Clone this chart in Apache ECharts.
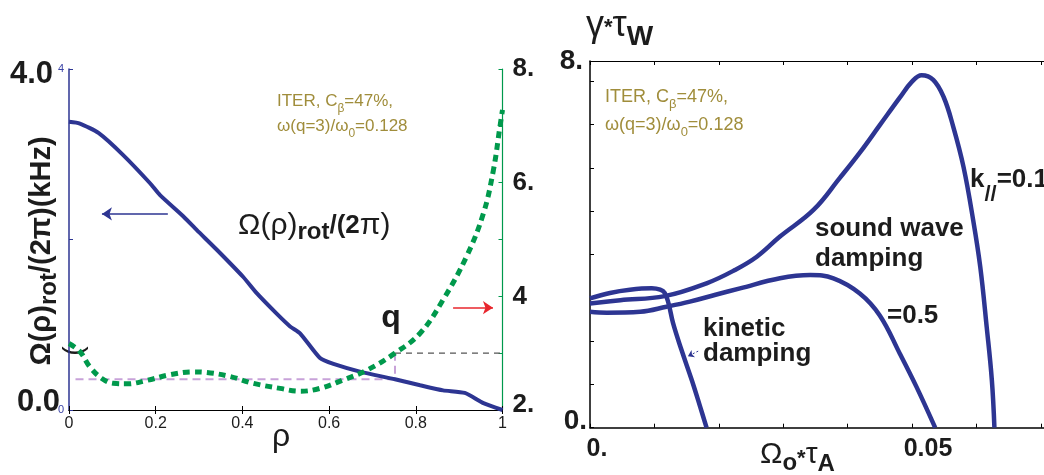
<!DOCTYPE html>
<html>
<head>
<meta charset="utf-8">
<script src="https://cdn.jsdelivr.net/npm/echarts@6/dist/echarts.min.js"></script>
<style>
  html, body { margin: 0; padding: 0; background: #fff; }
  #chart { width: 1044px; height: 475px; }
</style>
</head>
<body>
<div id="chart"></div>
<script>
// ---------- left panel: plasma rotation and safety factor vs rho ----------
const rhoRot  = [0, 0.025, 0.068, 0.125, 0.187, 0.21, 0.264, 0.295, 0.341, 0.402, 0.433, 0.479, 0.51, 0.533, 0.579, 0.61, 0.671, 0.752, 0.81, 0.863, 0.913, 0.956, 1.0];
const rotFreq = [3.38, 3.36, 3.25, 2.99, 2.66, 2.52, 2.27, 2.11, 1.88, 1.56, 1.37, 1.13, 0.98, 0.90, 0.61, 0.54, 0.45, 0.36, 0.29, 0.23, 0.20, 0.08, 0.0];

const rhoQ     = [0, 0.025, 0.048, 0.075, 0.102, 0.133, 0.179, 0.233, 0.287, 0.318, 0.371, 0.425, 0.487, 0.533, 0.579, 0.633, 0.687, 0.752, 0.81, 0.863, 0.917, 0.956, 0.979, 0.994, 1.0];
const qProfile = [3.17, 3.03, 2.76, 2.56, 2.47, 2.46, 2.52, 2.62, 2.67, 2.66, 2.59, 2.47, 2.38, 2.33, 2.38, 2.53, 2.70, 3.0, 3.35, 3.94, 4.70, 5.46, 6.22, 6.98, 7.28];

// q = 3 surface and the rotation there
const qRational = 3;
const rhoAtQ3 = 0.752;
const rotAtQ3 = 0.36;
const guideStart = 0.015;

const rotRange = [0, 4];
const qRange = [2, 8];
const rotTickText = { 0: '{b|0.0}', 4: '{t|4.0}' };
const rotSmallText = { 0: '0', 4: '4' };
const qTickText = { 2: '{d|2.}', 4: '4', 6: '6.', 8: '8.' };

// ---------- right panel: growth rate vs rotation frequency ----------
const kineticX = [0, 0.0031, 0.0062, 0.0096, 0.0109, 0.0116, 0.0122, 0.0129, 0.0142, 0.0158, 0.0171, 0.0181];
const kineticY = [2.82, 2.94, 3.01, 3.04, 3.01, 2.94, 2.71, 2.28, 1.70, 1.04, 0.46, 0];

const kPar01X = [0, 0.0047, 0.0116, 0.0181, 0.0225, 0.0259, 0.0295, 0.0347, 0.0388, 0.0419, 0.045, 0.0481, 0.050, 0.0515, 0.0533, 0.0549, 0.0564, 0.058, 0.0595, 0.0606, 0.0616, 0.0624, 0.0628];
const kPar01Y = [2.71, 2.78, 2.87, 3.15, 3.44, 3.73, 4.17, 4.75, 5.45, 6.0, 6.6, 7.2, 7.55, 7.69, 7.59, 7.22, 6.57, 5.69, 4.53, 3.51, 2.20, 1.04, 0];

const kPar05X = [0, 0.0026, 0.0078, 0.0119, 0.0155, 0.0195, 0.0233, 0.0295, 0.0342, 0.0378, 0.0419, 0.045, 0.0481, 0.0507, 0.0536];
const kPar05Y = [2.53, 2.51, 2.53, 2.64, 2.75, 2.90, 3.04, 3.26, 3.33, 3.26, 2.93, 2.45, 1.62, 0.89, 0];

const growthRange = [0, 8];
const growthStep = 0.9446;
const freqRange = [0, 0.0705];
const growthTickText = { 0: '{b|0.}', 8: '{t|8.}' };
const freqTickText = [[0, '{a|0.}'], [0.05, '{b|0.05}']];

// ---------- styling ----------
const BLUE = '#2d3592';
const GREEN = '#00994c';
const PINK = '#c8a2d9';
const OLIVE = '#a08d3b';
const RED = '#e8262d';
const INK = '#1c1c1c';
const SANS = '"Liberation Sans", Arial, Helvetica, sans-serif';

const zip = (xs, ys) => xs.map((x, i) => [x, ys[i]]);
const pick = (table, v) => { for (const k in table) { if (Math.abs(+k - v) < 1e-9) return table[k]; } return ''; };

// rich-text token whose glyph centre sits `center` px below the top of a line of height L
const tok = (fs, weight, center, L, extra) => Object.assign({
  fontSize: fs, fontWeight: weight, fontFamily: SANS, lineHeight: L,
  verticalAlign: 'top', padding: [Math.max(0, center - fs / 2), 0, 0, 0]
}, extra || {});

const rotOfQ = q => rotRange[0] + (q - qRange[0]) / (qRange[1] - qRange[0]) * (rotRange[1] - rotRange[0]);

const chart = echarts.init(document.getElementById('chart'), null, { renderer: 'canvas' });

const boxLine = { lineStyle: { color: '#000', width: 1 } };
const tickIn = (color) => ({ inside: true, length: 4, lineStyle: { color: color, width: 1 } });
const arrow = (color, width, dash, size, from, to) => ({
  silent: true, symbol: ['none', 'arrow'], symbolSize: size, label: { show: false },
  lineStyle: { color: color, width: width, type: dash }, emphasis: { disabled: true },
  data: [[{ coord: from }, { coord: to }]]
});

chart.setOption({
  animation: false,
  backgroundColor: '#fff',
  grid: [
    { left: 69, top: 69, width: 433.5, height: 341 },
    { left: 590, top: 61, width: 454, height: 366.7 }
  ],
  xAxis: [
    {
      gridIndex: 0, type: 'value', min: 0, max: 1, interval: 0.2, position: 'bottom',
      axisLine: boxLine, axisTick: tickIn('#000'), splitLine: { show: false },
      axisLabel: { fontSize: 16, color: INK, margin: 6, fontFamily: SANS }
    },
    {
      gridIndex: 0, type: 'value', min: 0, max: 1, interval: 0.2, position: 'top',
      axisLine: boxLine, axisTick: tickIn('#000'), splitLine: { show: false }, axisLabel: { show: false }
    },
    {
      gridIndex: 1, type: 'value', min: freqRange[0], max: freqRange[1], interval: 0.01, position: 'bottom',
      axisLine: { lineStyle: { color: '#000', width: 1.5 } }, axisTick: tickIn('#000'), splitLine: { show: false },
      axisLabel: {
        margin: 9, color: INK, fontSize: 25, fontWeight: 'bold', fontFamily: SANS,
        showMinLabel: true, showMaxLabel: false,
        formatter: v => { for (const [k, s] of freqTickText) { if (Math.abs(k - v) < 1e-9) return s; } return ''; },
        rich: {
          a: { fontSize: 25, fontWeight: 'bold', fontFamily: SANS, color: INK, padding: [0, 0, 0, 14] },
          b: { fontSize: 25, fontWeight: 'bold', fontFamily: SANS, color: INK, padding: [0, 0, 0, 32] }
        }
      }
    },
    {
      gridIndex: 1, type: 'value', min: freqRange[0], max: freqRange[1], interval: 0.01, position: 'top',
      axisLine: boxLine, axisTick: tickIn('#000'), splitLine: { show: false }, axisLabel: { show: false }
    }
  ],
  yAxis: [
    {
      gridIndex: 0, type: 'value', min: rotRange[0], max: rotRange[1], interval: 2, position: 'left',
      axisLine: { lineStyle: { color: BLUE, width: 1.5 } }, axisTick: tickIn(BLUE), splitLine: { show: false },
      axisLabel: {
        margin: 9, color: INK, fontSize: 31, fontWeight: 'bold', fontFamily: SANS,
        showMinLabel: true, showMaxLabel: true,
        formatter: v => pick(rotTickText, v),
        rich: {
          t: { fontSize: 31, fontWeight: 'bold', fontFamily: SANS, color: INK, padding: [11, 7, 0, 0] },
          b: { fontSize: 31, fontWeight: 'bold', fontFamily: SANS, color: INK, padding: [0, 0, 15, 0] }
        }
      }
    },
    {
      gridIndex: 0, type: 'value', min: rotRange[0], max: rotRange[1], interval: 2, position: 'left',
      axisLine: { show: false }, axisTick: { show: false }, splitLine: { show: false },
      axisLabel: { margin: 5, color: '#3a43a6', fontSize: 11, fontFamily: SANS, showMinLabel: true, showMaxLabel: true, formatter: v => pick(rotSmallText, v) }
    },
    {
      gridIndex: 0, type: 'value', min: qRange[0], max: qRange[1], interval: 1, position: 'right',
      axisLine: { lineStyle: { color: GREEN, width: 1.2 } }, axisTick: tickIn(GREEN), splitLine: { show: false },
      axisLabel: {
        margin: 10, color: INK, fontSize: 26, fontWeight: 'bold', fontFamily: SANS,
        showMinLabel: true, showMaxLabel: true,
        formatter: v => pick(qTickText, v),
        rich: { d: { fontSize: 26, fontWeight: 'bold', fontFamily: SANS, color: INK, padding: [0, 0, 10, 0] } }
      }
    },
    {
      gridIndex: 1, type: 'value', min: growthRange[0], max: growthRange[1], interval: growthStep, position: 'left',
      axisLine: { lineStyle: { color: '#000', width: 1.5 } }, axisTick: tickIn('#000'), splitLine: { show: false },
      axisLabel: {
        margin: 3, color: INK, fontSize: 28, fontWeight: 'bold', fontFamily: SANS,
        showMinLabel: true, showMaxLabel: true,
        formatter: v => pick(growthTickText, v),
        rich: {
          t: { fontSize: 28, fontWeight: 'bold', fontFamily: SANS, color: INK, padding: [0, 4, 0, 0] },
          b: { fontSize: 28, fontWeight: 'bold', fontFamily: SANS, color: INK, padding: [0, 0, 12, 0] }
        }
      }
    }
  ],
  series: [
    {
      name: 'rotation at q=3', type: 'line', xAxisIndex: 0, yAxisIndex: 0, symbol: 'none', silent: true,
      data: [[guideStart, rotAtQ3], [rhoAtQ3, rotAtQ3], [rhoAtQ3, rotOfQ(qRational)]],
      lineStyle: { color: PINK, width: 2, type: [8, 5] }
    },
    {
      name: 'q = 3', type: 'line', xAxisIndex: 0, yAxisIndex: 2, symbol: 'none', silent: true,
      data: [[rhoAtQ3, qRational], [1, qRational]],
      lineStyle: { color: '#555', width: 1.3, type: [6, 5] }
    },
    {
      name: 'rotation', type: 'line', xAxisIndex: 0, yAxisIndex: 0, symbol: 'none', smooth: 0.2, silent: true,
      data: zip(rhoRot, rotFreq),
      lineStyle: { color: BLUE, width: 4 },
      markLine: arrow(BLUE, 1.5, 'solid', 10, [0.228, 2.30], [0.076, 2.30])
    },
    {
      name: 'q', type: 'line', xAxisIndex: 0, yAxisIndex: 2, symbol: 'none', smooth: 0.4, silent: true,
      data: zip(rhoQ, qProfile),
      lineStyle: { color: GREEN, width: 5, type: [7, 5] },
      markLine: arrow(RED, 1.5, 'solid', 10, [0.886, 3.8], [0.978, 3.8])
    },
    {
      name: 'kinetic damping', type: 'line', xAxisIndex: 2, yAxisIndex: 3, symbol: 'none', smooth: 0.4, silent: true,
      data: zip(kineticX, kineticY),
      lineStyle: { color: BLUE, width: 4.5 },
      markLine: arrow(BLUE, 1, [2, 2], 6, [0.0168, 1.67], [0.0152, 1.56])
    },
    {
      name: 'k// = 0.1', type: 'line', xAxisIndex: 2, yAxisIndex: 3, symbol: 'none', smooth: 0.4, silent: true,
      data: zip(kPar01X, kPar01Y),
      lineStyle: { color: BLUE, width: 4.5 }
    },
    {
      name: 'k// = 0.5', type: 'line', xAxisIndex: 2, yAxisIndex: 3, symbol: 'none', smooth: 0.4, silent: true,
      data: zip(kPar05X, kPar05Y),
      lineStyle: { color: BLUE, width: 4.5 }
    }
  ],
  graphic: [
    // left panel titles
    {
      type: 'text', x: 42, y: 251, rotation: Math.PI / 2, silent: true,
      style: {
        text: '{m|Ω(ρ)}{r|rot}{m|/(2π)(kHz)}', fill: INK, align: 'center', verticalAlign: 'middle',
        rich: { m: tok(29, 'bold', 20, 40), r: tok(24, 'bold', 27, 40) }
      }
    },
    {
      type: 'text', x: 74, y: 351, rotation: Math.PI / 2, silent: true,
      style: { text: '(', fill: INK, fontSize: 28, fontFamily: SANS, align: 'center', verticalAlign: 'middle' }
    },
    {
      type: 'text', x: 281, y: 437, silent: true,
      style: { text: 'ρ', fill: INK, fontSize: 32, fontFamily: SANS, align: 'center', verticalAlign: 'middle' }
    },
    {
      type: 'text', x: 238, y: 208, silent: true,
      style: {
        text: '{m|Ω(ρ)}{r|rot}{b|/(2}{m|π)}', fill: INK, align: 'left', verticalAlign: 'top',
        rich: { m: tok(30, 'normal', 18, 36), r: tok(24, 'bold', 24, 36), b: tok(26, 'bold', 18, 36) }
      }
    },
    {
      type: 'text', x: 391, y: 318, silent: true,
      style: { text: 'q', fill: INK, fontSize: 32, fontWeight: 'bold', fontFamily: SANS, align: 'center', verticalAlign: 'middle' }
    },
    {
      type: 'text', x: 277, y: 89, silent: true,
      style: {
        text: '{n|ITER, C}{s|β}{n|=47%,}\n{n|ω(q=3)/ω}{s|0}{n|=0.128}', fill: OLIVE, align: 'left', verticalAlign: 'top',
        rich: { n: tok(17, 'normal', 12.5, 25), s: tok(12, 'normal', 19.5, 25) }
      }
    },
    // right panel titles and annotations
    {
      type: 'text', x: 586, y: 2, silent: true,
      style: {
        text: '{m|γ}{a|*}{m|τ}{w|W}', fill: INK, align: 'left', verticalAlign: 'top',
        rich: { m: tok(36, 'normal', 24, 48), a: tok(22, 'bold', 26, 48), w: tok(28, 'bold', 35, 48) }
      }
    },
    {
      type: 'text', x: 760, y: 435, silent: true,
      style: {
        text: '{m|Ω}{o|o}{a|*}{m|τ}{s|A}', fill: INK, align: 'left', verticalAlign: 'top',
        rich: { m: tok(30, 'normal', 20, 40), o: tok(24, 'bold', 28, 40), a: tok(22, 'bold', 24, 40), s: tok(24, 'bold', 29, 40) }
      }
    },
    {
      type: 'text', x: 605, y: 83.5, silent: true,
      style: {
        text: '{n|ITER, C}{s|β}{n|=47%,}\n{n|ω(q=3)/ω}{s|0}{n|=0.128}', fill: OLIVE, align: 'left', verticalAlign: 'top',
        rich: { n: tok(18, 'normal', 13.75, 27.5), s: tok(13, 'normal', 21, 27.5) }
      }
    },
    {
      type: 'text', x: 970, y: 162, silent: true,
      style: {
        text: '{m|k}{s|//}{m|=0.1}', fill: INK, align: 'left', verticalAlign: 'top',
        rich: { m: tok(26, 'bold', 18, 36), s: tok(22, 'bold', 33, 36) }
      }
    },
    {
      type: 'text', x: 815, y: 214.2, silent: true,
      style: { text: 'sound wave\ndamping', fill: INK, fontSize: 26, fontWeight: 'bold', fontFamily: SANS, lineHeight: 30, align: 'left', verticalAlign: 'top' }
    },
    {
      type: 'text', x: 887, y: 316, silent: true,
      style: { text: '=0.5', fill: INK, fontSize: 26, fontWeight: 'bold', fontFamily: SANS, align: 'left', verticalAlign: 'middle' }
    },
    {
      type: 'text', x: 703, y: 316.7, silent: true,
      style: { text: 'kinetic\ndamping', fill: INK, fontSize: 26, fontWeight: 'bold', fontFamily: SANS, lineHeight: 25, align: 'left', verticalAlign: 'top' }
    }
  ]
});
</script>
</body>
</html>
